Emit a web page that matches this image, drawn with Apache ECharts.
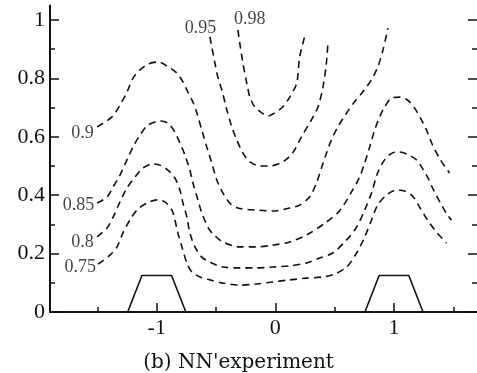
<!DOCTYPE html>
<html>
<head>
<meta charset="utf-8">
<script src="https://cdn.jsdelivr.net/npm/echarts@6.0.0/dist/echarts.min.js"></script>
<style>
  html, body { margin: 0; padding: 0; background: #fff; }
  #chart { width: 477px; height: 373px; }
</style>
</head>
<body>
<div id="chart"></div>
<script>
// tick positions
const xTicks = [-1, 0, 1];
const xMinorTicks = [-1.5, -0.5, 0.5, 1.5];
const yTicks = [0, 0.2, 0.4, 0.6, 0.8, 1];
const yMinorTicks = [0.1, 0.3, 0.5, 0.7, 0.9];

// contour lines, [x, y]
const contour075 = [[-1.495,0.164],[-1.394,0.195],[-1.335,0.223],[-1.285,0.271],[-1.226,0.315],[-1.167,0.349],[-1.083,0.373],[-0.998,0.384],[-0.931,0.377],[-0.872,0.349],[-0.847,0.315],[-0.822,0.271],[-0.788,0.223],[-0.746,0.168],[-0.704,0.137],[-0.636,0.120],[-0.552,0.110],[-0.443,0.099],[-0.300,0.092],[-0.157,0.096],[-0.022,0.103],[0.121,0.110],[0.264,0.116],[0.399,0.120],[0.500,0.130],[0.601,0.154],[0.685,0.202],[0.753,0.257],[0.811,0.315],[0.862,0.366],[0.938,0.401],[1.022,0.418],[1.089,0.414],[1.157,0.397],[1.215,0.360],[1.283,0.315],[1.358,0.274],[1.443,0.236]];
const contour080 = [[-1.503,0.257],[-1.419,0.288],[-1.368,0.325],[-1.310,0.377],[-1.251,0.425],[-1.184,0.462],[-1.116,0.493],[-1.032,0.507],[-0.973,0.503],[-0.906,0.486],[-0.847,0.459],[-0.805,0.418],[-0.779,0.373],[-0.746,0.325],[-0.721,0.271],[-0.678,0.223],[-0.620,0.188],[-0.552,0.171],[-0.443,0.154],[-0.300,0.151],[-0.157,0.151],[-0.022,0.154],[0.121,0.158],[0.264,0.168],[0.374,0.185],[0.483,0.202],[0.601,0.247],[0.685,0.291],[0.753,0.349],[0.811,0.408],[0.862,0.476],[0.921,0.521],[0.988,0.545],[1.047,0.548],[1.123,0.538],[1.190,0.521],[1.232,0.497],[1.283,0.462],[1.333,0.418],[1.392,0.373],[1.451,0.332],[1.485,0.315]];
const contour085 = [[-1.503,0.373],[-1.419,0.394],[-1.368,0.428],[-1.310,0.469],[-1.251,0.521],[-1.200,0.565],[-1.141,0.606],[-1.074,0.640],[-0.973,0.654],[-0.906,0.647],[-0.847,0.616],[-0.805,0.579],[-0.763,0.538],[-0.721,0.486],[-0.695,0.442],[-0.653,0.384],[-0.620,0.339],[-0.569,0.291],[-0.535,0.271],[-0.443,0.240],[-0.300,0.223],[-0.157,0.223],[-0.022,0.229],[0.121,0.240],[0.264,0.264],[0.420,0.305],[0.540,0.346],[0.652,0.418],[0.710,0.462],[0.753,0.510],[0.795,0.565],[0.837,0.623],[0.879,0.668],[0.921,0.702],[0.980,0.733],[1.047,0.736],[1.114,0.726],[1.173,0.699],[1.224,0.664],[1.274,0.623],[1.325,0.572],[1.392,0.521],[1.468,0.476]];
const contour090 = [[-1.503,0.634],[-1.377,0.668],[-1.310,0.709],[-1.251,0.753],[-1.200,0.801],[-1.141,0.829],[-1.074,0.849],[-0.990,0.856],[-0.889,0.836],[-0.830,0.818],[-0.779,0.788],[-0.737,0.753],[-0.695,0.719],[-0.662,0.682],[-0.620,0.623],[-0.578,0.565],[-0.536,0.510],[-0.494,0.452],[-0.443,0.408],[-0.384,0.373],[-0.316,0.356],[-0.157,0.349],[-0.022,0.346],[0.121,0.356],[0.205,0.366],[0.290,0.395],[0.346,0.441],[0.388,0.492],[0.430,0.543],[0.472,0.589],[0.528,0.635],[0.598,0.680],[0.668,0.720],[0.738,0.754],[0.809,0.795],[0.864,0.840],[0.907,0.897],[0.949,0.972]];
const contour095 = [[-0.552,0.942],[-0.510,0.853],[-0.485,0.805],[-0.451,0.760],[-0.409,0.692],[-0.367,0.634],[-0.325,0.589],[-0.274,0.545],[-0.215,0.514],[-0.131,0.500],[-0.047,0.500],[0.062,0.514],[0.146,0.545],[0.220,0.600],[0.304,0.658],[0.360,0.703],[0.402,0.772],[0.430,0.852],[0.444,0.926]];
const contour098 = [[-0.316,0.966],[-0.300,0.921],[-0.274,0.853],[-0.241,0.784],[-0.215,0.736],[-0.173,0.702],[-0.114,0.682],[-0.064,0.671],[-0.005,0.682],[0.062,0.702],[0.121,0.736],[0.180,0.784],[0.205,0.874],[0.247,0.943]];

// obstacles on the floor
const bumpLeft = [[-1.245,0],[-1.125,0.125],[-0.875,0.125],[-0.755,0]];
const bumpRight = [[0.755,0],[0.875,0.125],[1.125,0.125],[1.245,0]];

// contour labels (text and where they sit, in data units)
const labelText = ['0.9', '0.85', '0.8', '0.75', '0.95', '0.98'];
const labelX = [-1.625, -1.659, -1.625, -1.646, -0.632, -0.215];
const labelY = [0.613, 0.366, 0.240, 0.154, 0.973, 1.003];

const caption = "(b) NN'experiment";

const INK = '#111';
const SERIF = 'Liberation Serif';

const chart = echarts.init(document.getElementById('chart'), null, { renderer: 'canvas' });

const contours = [contour075, contour080, contour085, contour090, contour095, contour098];

const dashedSeries = contours.map((pts) => ({
  type: 'line',
  data: pts,
  smooth: 0.3,
  showSymbol: false,
  silent: true,
  lineStyle: { color: INK, width: 1.6, type: [7, 5] },
}));

const bumpSeries = [bumpLeft, bumpRight].map((pts) => ({
  type: 'line',
  data: pts,
  showSymbol: false,
  silent: true,
  lineStyle: { color: INK, width: 1.6 },
}));

// axis labels go through rich text so the serif face sticks
const tickLabel = (values) => ({
  customValues: values,
  margin: 5,
  formatter: (v) => '{t|' + v + '}',
  rich: { t: { fontFamily: SERIF, fontSize: 22, color: INK } },
});

const baseX = { type: 'value', min: -1.9, max: 1.7, position: 'bottom', splitLine: { show: false } };
const baseY = { type: 'value', min: 0, max: 1.05, splitLine: { show: false } };

const option = {
  animation: false,
  backgroundColor: '#fff',
  textStyle: { fontFamily: SERIF },
  title: {
    text: caption,
    left: 'center',
    top: 353,
    padding: 0,
    textStyle: { fontFamily: 'DejaVu Serif', fontSize: 20, fontWeight: 'normal', color: INK },
  },
  grid: { left: 50, right: 0, top: 5.4, bottom: 61 },
  xAxis: [
    {
      ...baseX,
      axisLine: { show: true, onZero: false, lineStyle: { color: INK, width: 2 } },
      axisTick: { show: true, inside: true, length: 9, customValues: xTicks, lineStyle: { color: INK, width: 1.5 } },
      axisLabel: tickLabel(xTicks),
    },
    {
      ...baseX,
      axisLine: { show: false, onZero: false },
      axisTick: { show: true, inside: true, length: 5, customValues: xMinorTicks, lineStyle: { color: INK, width: 1.5 } },
      axisLabel: { show: false },
    },
  ],
  yAxis: [
    {
      ...baseY,
      position: 'left',
      axisLine: { show: true, onZero: false, lineStyle: { color: INK, width: 2 } },
      axisTick: { show: true, inside: true, length: 9, customValues: yTicks, lineStyle: { color: INK, width: 1.5 } },
      axisLabel: tickLabel(yTicks),
    },
    {
      ...baseY,
      position: 'left',
      axisLine: { show: false, onZero: false },
      axisTick: { show: true, inside: true, length: 5, customValues: yMinorTicks, lineStyle: { color: INK, width: 1.5 } },
      axisLabel: { show: false },
    },
    {
      ...baseY,
      position: 'right',
      axisLine: { show: false, onZero: false },
      axisTick: { show: true, inside: true, length: 9, customValues: yTicks, lineStyle: { color: INK, width: 1.5 } },
      axisLabel: { show: false },
    },
    {
      ...baseY,
      position: 'right',
      axisLine: { show: false, onZero: false },
      axisTick: { show: true, inside: true, length: 5, customValues: yMinorTicks, lineStyle: { color: INK, width: 1.5 } },
      axisLabel: { show: false },
    },
  ],
  series: [
    ...dashedSeries,
    ...bumpSeries,
    {
      type: 'scatter',
      symbolSize: 0.1,
      silent: true,
      itemStyle: { color: 'rgba(0,0,0,0)' },
      data: labelText.map((t, i) => ({ name: t, value: [labelX[i], labelY[i]] })),
      label: {
        show: true,
        position: 'inside',
        formatter: '{b}',
        fontFamily: SERIF,
        fontSize: 18,
        color: INK,
      },
    },
  ],
};

chart.setOption(option);
</script>
</body>
</html>
